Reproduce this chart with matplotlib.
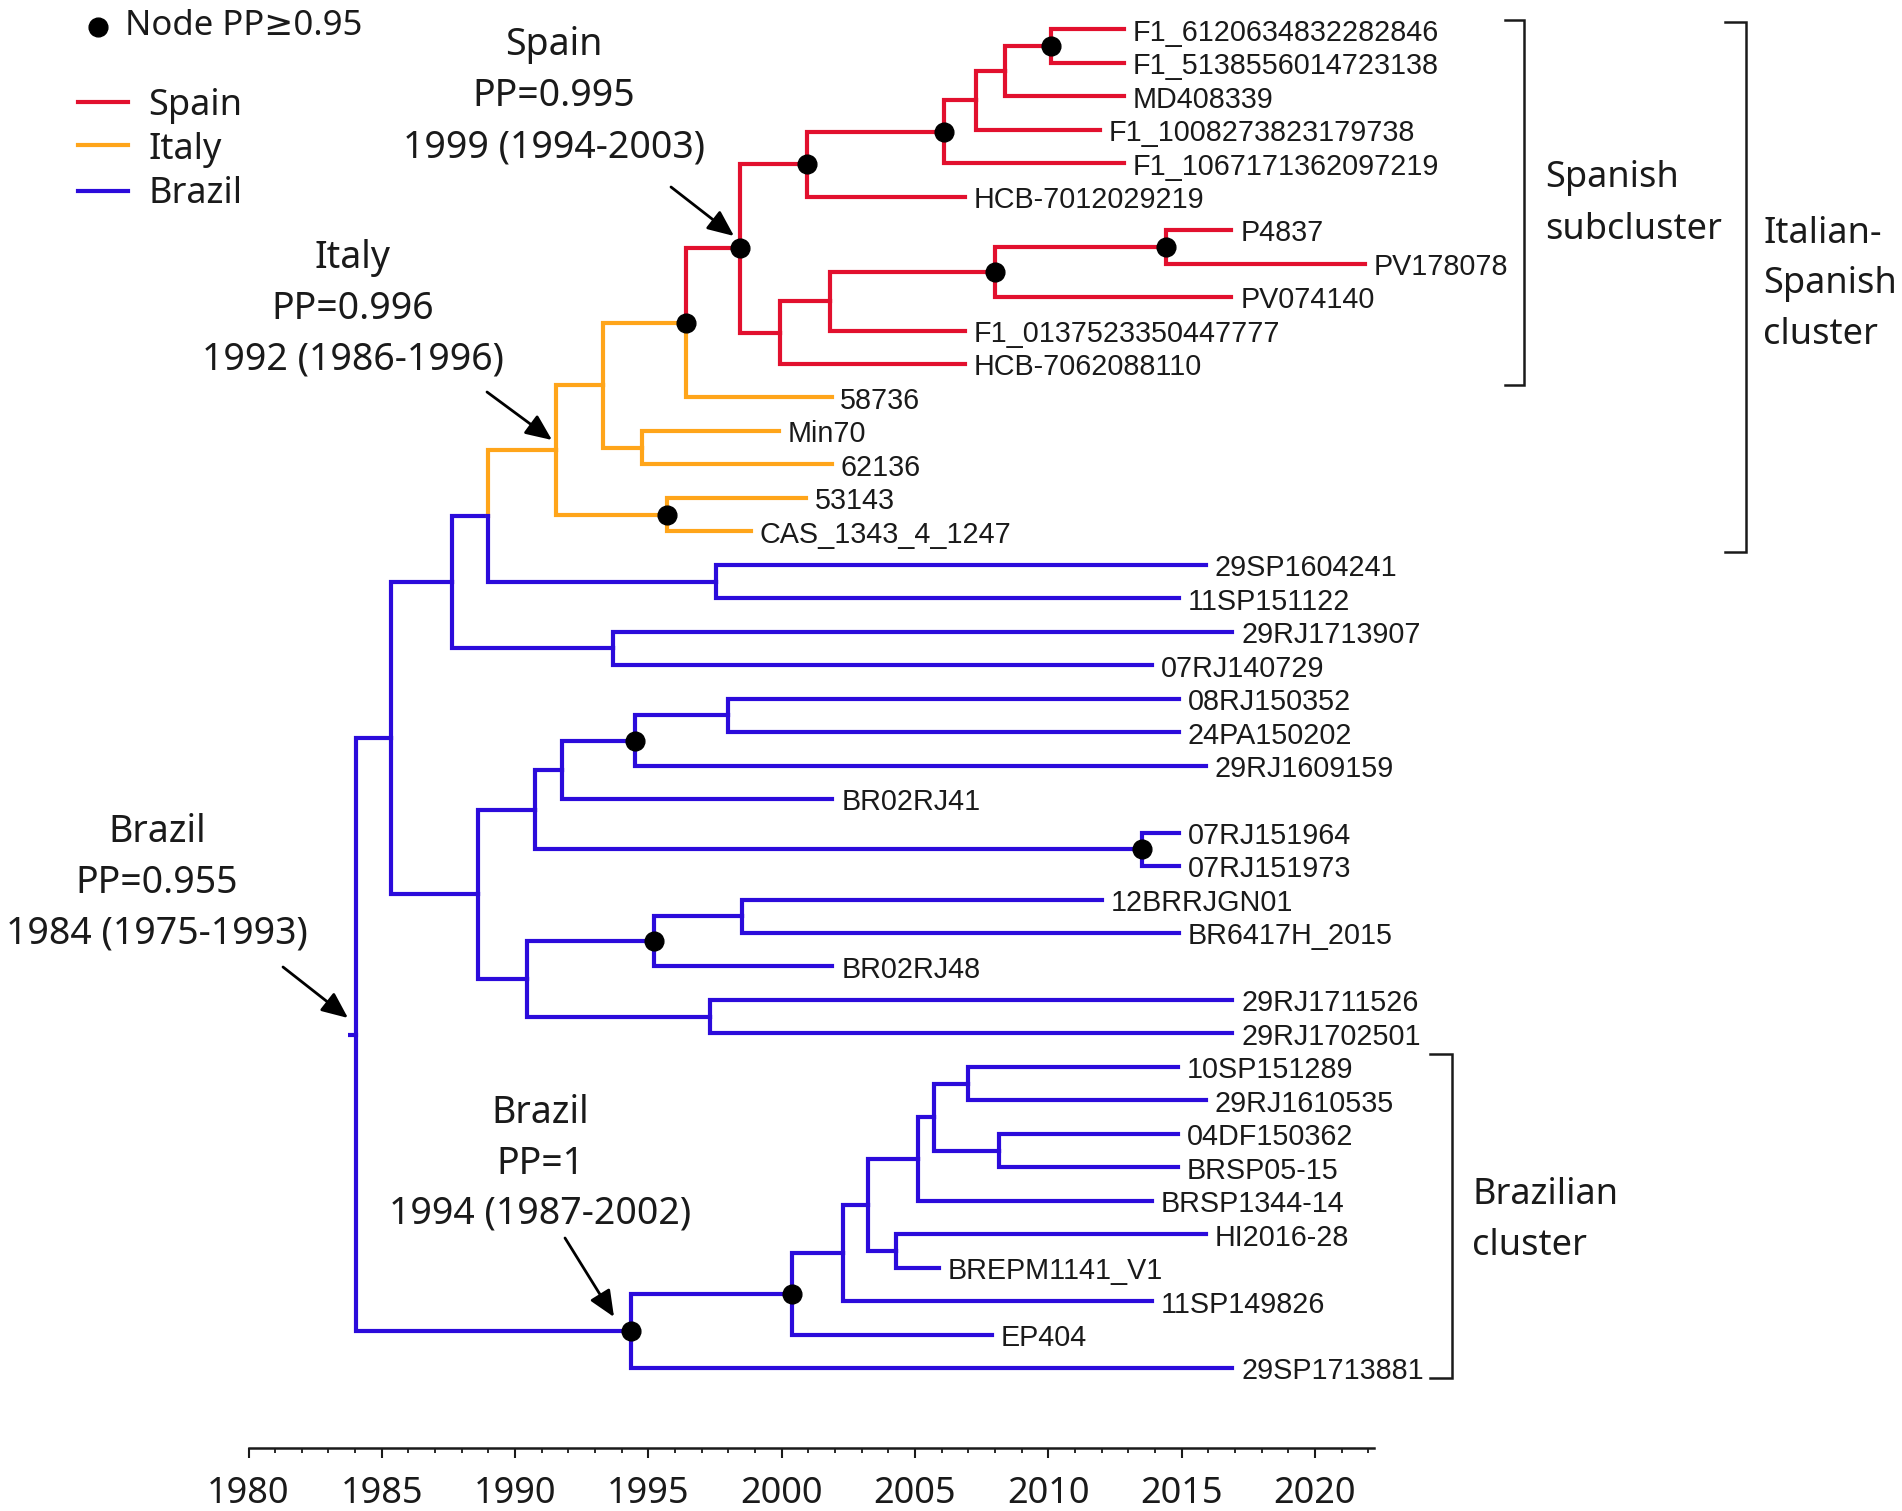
import matplotlib.pyplot as plt

plt.rcParams['font.family'] = ['Noto Sans', 'DejaVu Sans']

# ---- datos del arbol ----
tip_names = ["F1_6120634832282846", "F1_5138556014723138", "MD408339", "F1_1008273823179738",
             "F1_1067171362097219", "HCB-7012029219", "P4837", "PV178078", "PV074140",
             "F1_0137523350447777", "HCB-7062088110", "58736", "Min70", "62136", "53143",
             "CAS_1343_4_1247", "29SP1604241", "11SP151122", "29RJ1713907", "07RJ140729",
             "08RJ150352", "24PA150202", "29RJ1609159", "BR02RJ41", "07RJ151964", "07RJ151973",
             "12BRRJGN01", "BR6417H_2015", "BR02RJ48", "29RJ1711526", "29RJ1702501",
             "10SP151289", "29RJ1610535", "04DF150362", "BRSP05-15", "BRSP1344-14", "HI2016-28",
             "BREPM1141_V1", "11SP149826", "EP404", "29SP1713881"]
tip_dates = [2012.84, 2012.84, 2012.84, 2011.95, 2012.84, 2006.87, 2016.87, 2021.87, 2016.87,
             2006.87, 2006.87, 2001.87, 1999.9, 2001.87, 2000.9, 1998.84, 2015.9, 2014.9,
             2016.9, 2013.9, 2014.9, 2014.9, 2015.9, 2001.9, 2014.9, 2014.9, 2012.0, 2014.9,
             2001.9, 2016.9, 2016.9, 2014.87, 2015.9, 2014.87, 2014.87, 2013.9, 2015.9,
             2005.9, 2013.9, 2007.9, 2016.9]
tip_parent = [12, 12, 11, 10, 9, 8, 16, 16, 15, 14, 13, 6, 17, 17, 18, 18, 19, 19, 20, 20,
              25, 25, 24, 23, 26, 26, 29, 29, 28, 30, 30, 37, 37, 38, 38, 35, 39, 39, 33, 32, 31]
tip_country = ["Spain"] * 11 + ["Italy"] * 5 + ["Brazil"] * 25

node_date = [1984.04, 1985.35, 1987.65, 1989.0, 1991.53, 1993.3, 1996.4, 1998.45, 2000.95,
             2006.08, 2007.3, 2008.37, 2010.1, 1999.95, 2001.8, 2008.0, 2014.4, 1994.76,
             1995.69, 1997.55, 1993.67, 1988.6, 1990.73, 1991.76, 1994.5, 1998.0, 2013.5,
             1990.44, 1995.2, 1998.5, 1997.3, 1994.34, 2000.4, 2002.3, 2003.24, 2005.13,
             2005.7, 2006.97, 2008.15, 2004.29]
node_parent = [-1, 0, 1, 2, 3, 4, 5, 6, 7, 8, 9, 10, 11, 7, 13, 14, 15, 5, 4, 3, 2, 1, 21,
               22, 23, 24, 22, 21, 27, 28, 27, 0, 31, 32, 33, 34, 35, 36, 36, 34]
node_country = (["Brazil"] * 4 + ["Italy"] * 3 + ["Spain"] * 10 + ["Italy"] * 2
                + ["Brazil"] * 21)
node_pp95 = [0, 0, 0, 0, 0, 0, 1, 1, 1, 1, 0, 0, 1, 0, 0, 1, 1, 0, 1, 0, 0, 0, 0, 0, 1, 0,
             1, 0, 1, 0, 0, 1, 1, 0, 0, 0, 0, 0, 0, 0]
root_branch_start = 1983.74

colores = {"Spain": "#E2102E", "Italy": "#FFA51A", "Brazil": "#2B0BDB"}
texto = "#1a1a1a"

# ---- figura: un eje que cubre todo el ancho, en pixeles del original ----
W, H = 1902, 1511
X0, PXY = 248.5, 26.66        # 1980 en x=248.5 px, px por anio
Y0, PXT = 29.3, 33.47         # primera punta y separacion entre puntas
EJE = 1448                    # linea del eje temporal


def fx(px):
    return 1980 + (px - X0) / PXY


def fy(py):
    return (py - Y0) / PXT


fig = plt.figure(figsize=(W / 100, H / 100), dpi=100)
ax = fig.add_axes([0, 1 - EJE / H, 1, EJE / H])
ax.set_xlim(fx(0), fx(W))
ax.set_ylim(fy(EJE), fy(0))

# hijos de cada nodo
hijos = [[] for _ in node_date]
for i, p in enumerate(tip_parent):
    hijos[p].append(("tip", i))
for j, p in enumerate(node_parent):
    if p >= 0:
        hijos[p].append(("node", j))

node_y = [None] * len(node_date)


def pos_y(tipo, k):
    if tipo == "tip":
        return float(k)
    if node_y[k] is None:
        ys = [pos_y(*h) for h in hijos[k]]
        node_y[k] = (min(ys) + max(ys)) / 2
    return node_y[k]


for k in range(len(node_date)):
    pos_y("node", k)

lw = 3.0
# ramas en codo, con el color del hijo
for p in range(len(node_date)):
    for tipo, k in hijos[p]:
        if tipo == "tip":
            cx, cy, col = tip_dates[k], float(k), colores[tip_country[k]]
        else:
            cx, cy, col = node_date[k], node_y[k], colores[node_country[k]]
        ax.plot([node_date[p], node_date[p], cx], [node_y[p], cy, cy], color=col, lw=lw,
                solid_capstyle="projecting", solid_joinstyle="miter", zorder=2)

raiz = node_parent.index(-1)
ax.plot([root_branch_start, node_date[raiz]], [node_y[raiz]] * 2,
        color=colores[node_country[raiz]], lw=lw, solid_capstyle="butt", zorder=2)

# nodos con PP>=0.95
for k, flag in enumerate(node_pp95):
    if flag:
        ax.plot(node_date[k], node_y[k], "o", color="black", ms=13.5, zorder=5)

# nombres de las puntas
for i, nombre in enumerate(tip_names):
    ax.text(tip_dates[i] + 0.33, i + 0.34, nombre, ha="left", va="baseline", fontsize=20.7,
            family=["Liberation Sans", "DejaVu Sans"], color=texto)

# anotaciones con flecha
anotaciones = [
    (["Spain", "PP=0.995", "1999 (1994-2003)"], 554, [55, 106, 157], (671, 187), (734, 236)),
    (["Italy", "PP=0.996", "1992 (1986-1996)"], 353, [268, 319, 370], (487, 392), (552, 440)),
    (["Brazil", "PP=0.955", "1984 (1975-1993)"], 157, [842, 893, 944], (283, 967), (348, 1018)),
    (["Brazil", "PP=1", "1994 (1987-2002)"], 540, [1123, 1174, 1224], (565, 1238), (614, 1317)),
]
for lineas, cx, bases, cola, punta in anotaciones:
    for linea, b in zip(lineas, bases):
        ax.text(fx(cx), fy(b), linea, ha="center", va="baseline", fontsize=27, color=texto)
    ax.annotate("", xy=(fx(punta[0]), fy(punta[1])), xytext=(fx(cola[0]), fy(cola[1])),
                arrowprops=dict(arrowstyle="-|>,head_length=0.8,head_width=0.35",
                                mutation_scale=20, color="black", lw=2,
                                shrinkA=0, shrinkB=0))

# corchetes de los clusters
corchetes = [
    (["Spanish", "subcluster"], 0, 10, -0.28, 0.62, 1524, 19, 1545, [187, 239]),
    (["Italian-", "Spanish", "cluster"], 0, 15, -0.22, 0.62, 1746, 21, 1763, [243, 293, 344]),
    (["Brazilian", "cluster"], 31, 40, -0.39, 0.3, 1452, 22, 1472, [1204, 1255]),
]
for lineas, t0, t1, pad0, pad1, xb, largo, xt, bases in corchetes:
    ya, yb = t0 + pad0, t1 + pad1
    ax.plot([fx(xb - largo), fx(xb), fx(xb), fx(xb - largo)], [ya, ya, yb, yb],
            color=texto, lw=1.8, solid_joinstyle="miter")
    for linea, b in zip(lineas, bases):
        ax.text(fx(xt), fy(b), linea, ha="left", va="baseline", fontsize=26, color=texto)

# leyenda
ax.plot(fx(98), fy(27), "o", color="black", ms=13.5)
ax.text(fx(125), fy(35), "Node PP≥0.95", ha="left", va="baseline", fontsize=25, color=texto)
for pais, ly, base in zip(["Spain", "Italy", "Brazil"], [102, 145, 191], [115, 159, 203]):
    ax.plot([fx(78), fx(128)], [fy(ly)] * 2, color=colores[pais], lw=3)
    ax.text(fx(148), fy(base), pais, ha="left", va="baseline", fontsize=26, color=texto)

# eje temporal
for lado in ["top", "left", "right"]:
    ax.spines[lado].set_visible(False)
ax.spines["bottom"].set_bounds(1980, 2022.2)
ax.spines["bottom"].set_linewidth(1.8)
ax.spines["bottom"].set_color(texto)
ax.set_yticks([])
ax.set_xticks(range(1980, 2021, 5))
ax.set_xticks(range(1980, 2023), minor=True)
ax.tick_params(axis="x", which="major", length=7.5, width=1.5, pad=13, labelsize=26,
               colors=texto)
ax.tick_params(axis="x", which="minor", length=3.5, width=1.3, colors=texto)

fig.savefig("out.png", dpi=100)
